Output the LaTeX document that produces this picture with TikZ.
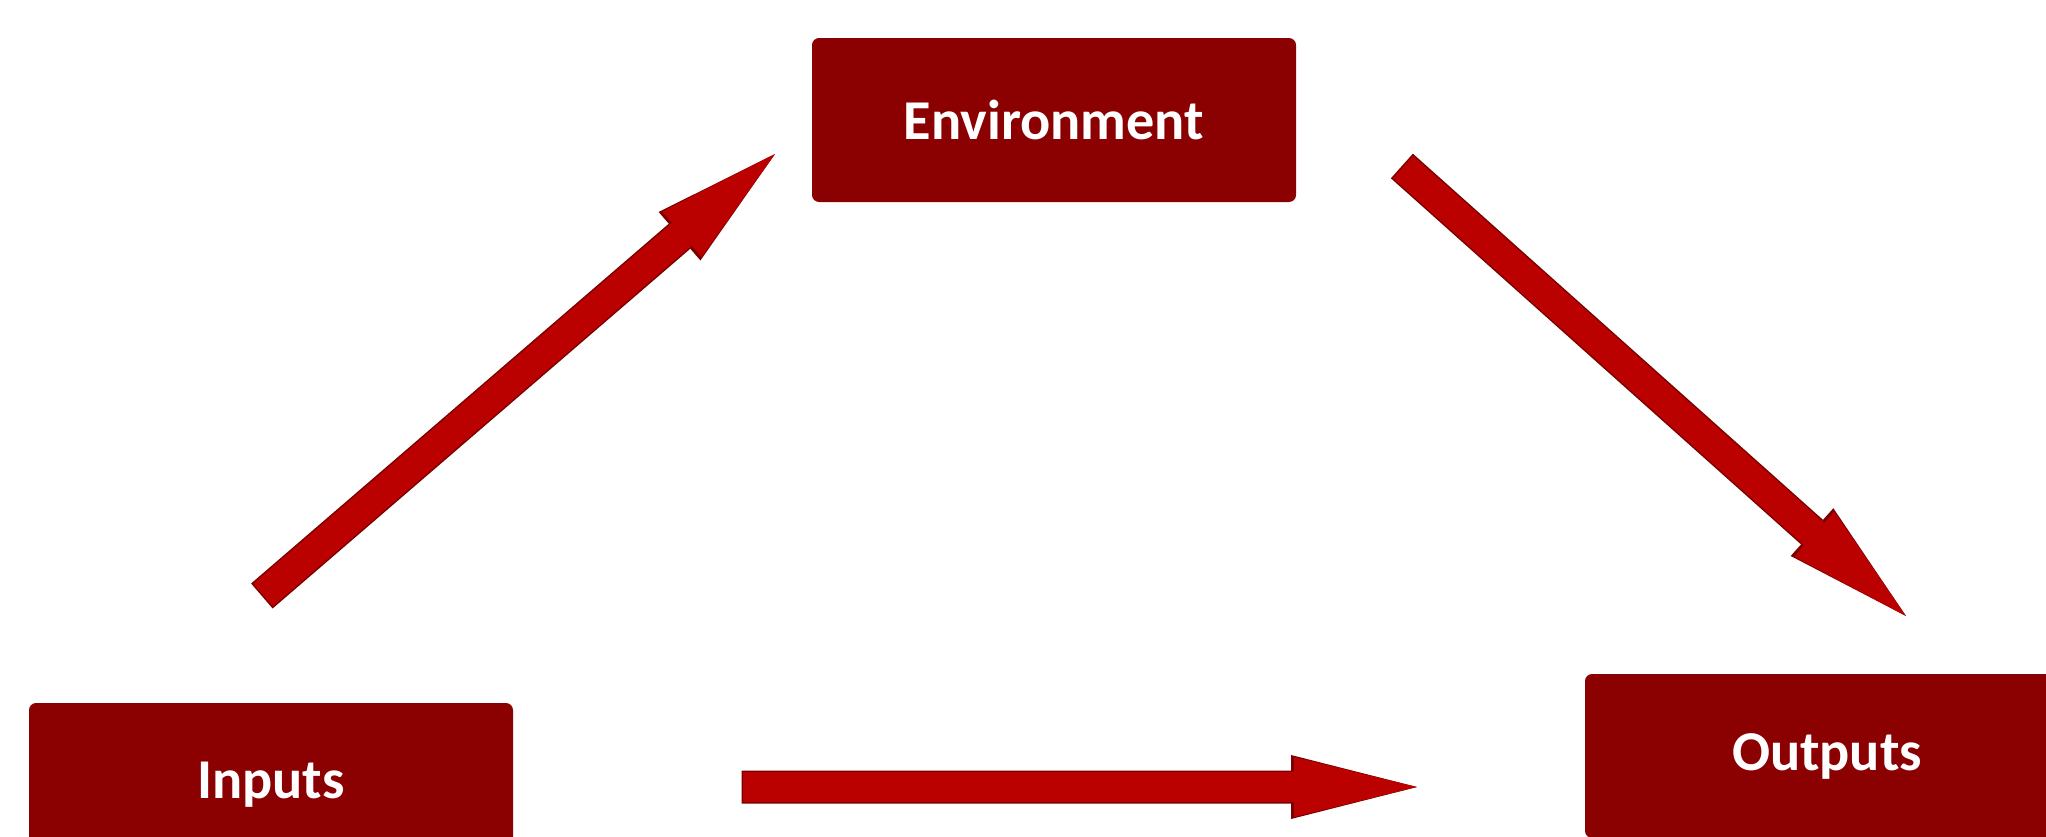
\documentclass[tikz,border=0pt]{standalone}
\usepackage{fontspec}
\setmainfont{Carlito}
\usepackage{tikz}
\usetikzlibrary{arrows.meta}

\definecolor{boxred}{HTML}{8B0000}
\definecolor{arrowred}{HTML}{BB0000}
\definecolor{arrowedge}{HTML}{7A0000}

\begin{document}
\begin{tikzpicture}[
				block/.style={rectangle, fill=boxred, rounded corners=2pt, minimum width=4.84cm, minimum height=1.64cm, text=white, font=\bfseries\fontsize{16}{19}\selectfont},
				flow/.style={arrowred, line width=0.3cm, -{Triangle[length=1.23cm, width=0.6cm, line width=0pt]},
					preaction={draw=arrowedge, line width=0.33cm, shorten <=-0.015cm, -{Triangle[length=1.26cm, width=0.64cm, line width=0pt]}}}]
				
			\useasboundingbox (0,0) rectangle (20.46,8.36);
			
			\node[block] (environment) at (10.54,7.16) {Environment};
			\node[block] (inputs) at (2.71,0.51) {Inputs};
			\node[block] (outputs) at (18.27,0.80) {Outputs};
			
			% loose ends of the three arrows
			\coordinate (inputs_up) at ([shift={(-0.08,1.90)}]inputs.center);
			\coordinate (environment_in) at ([shift={(-2.79,-0.34)}]environment.center);
			\coordinate (environment_out) at ([shift={(3.49,-0.47)}]environment.center);
			\coordinate (outputs_up) at ([shift={(0.79,1.40)}]outputs.center);
			\coordinate (inputs_right) at ([shift={(4.72,-0.02)}]inputs.center);
			\coordinate (outputs_left) at ([shift={(-4.10,-0.31)}]outputs.center);
			
			\draw[flow] (inputs_up) -- (environment_in);
			
			\draw[flow] (environment_out) -- (outputs_up);
			
			\draw[flow] (inputs_right) -- (outputs_left);
		\end{tikzpicture}
\end{document}
